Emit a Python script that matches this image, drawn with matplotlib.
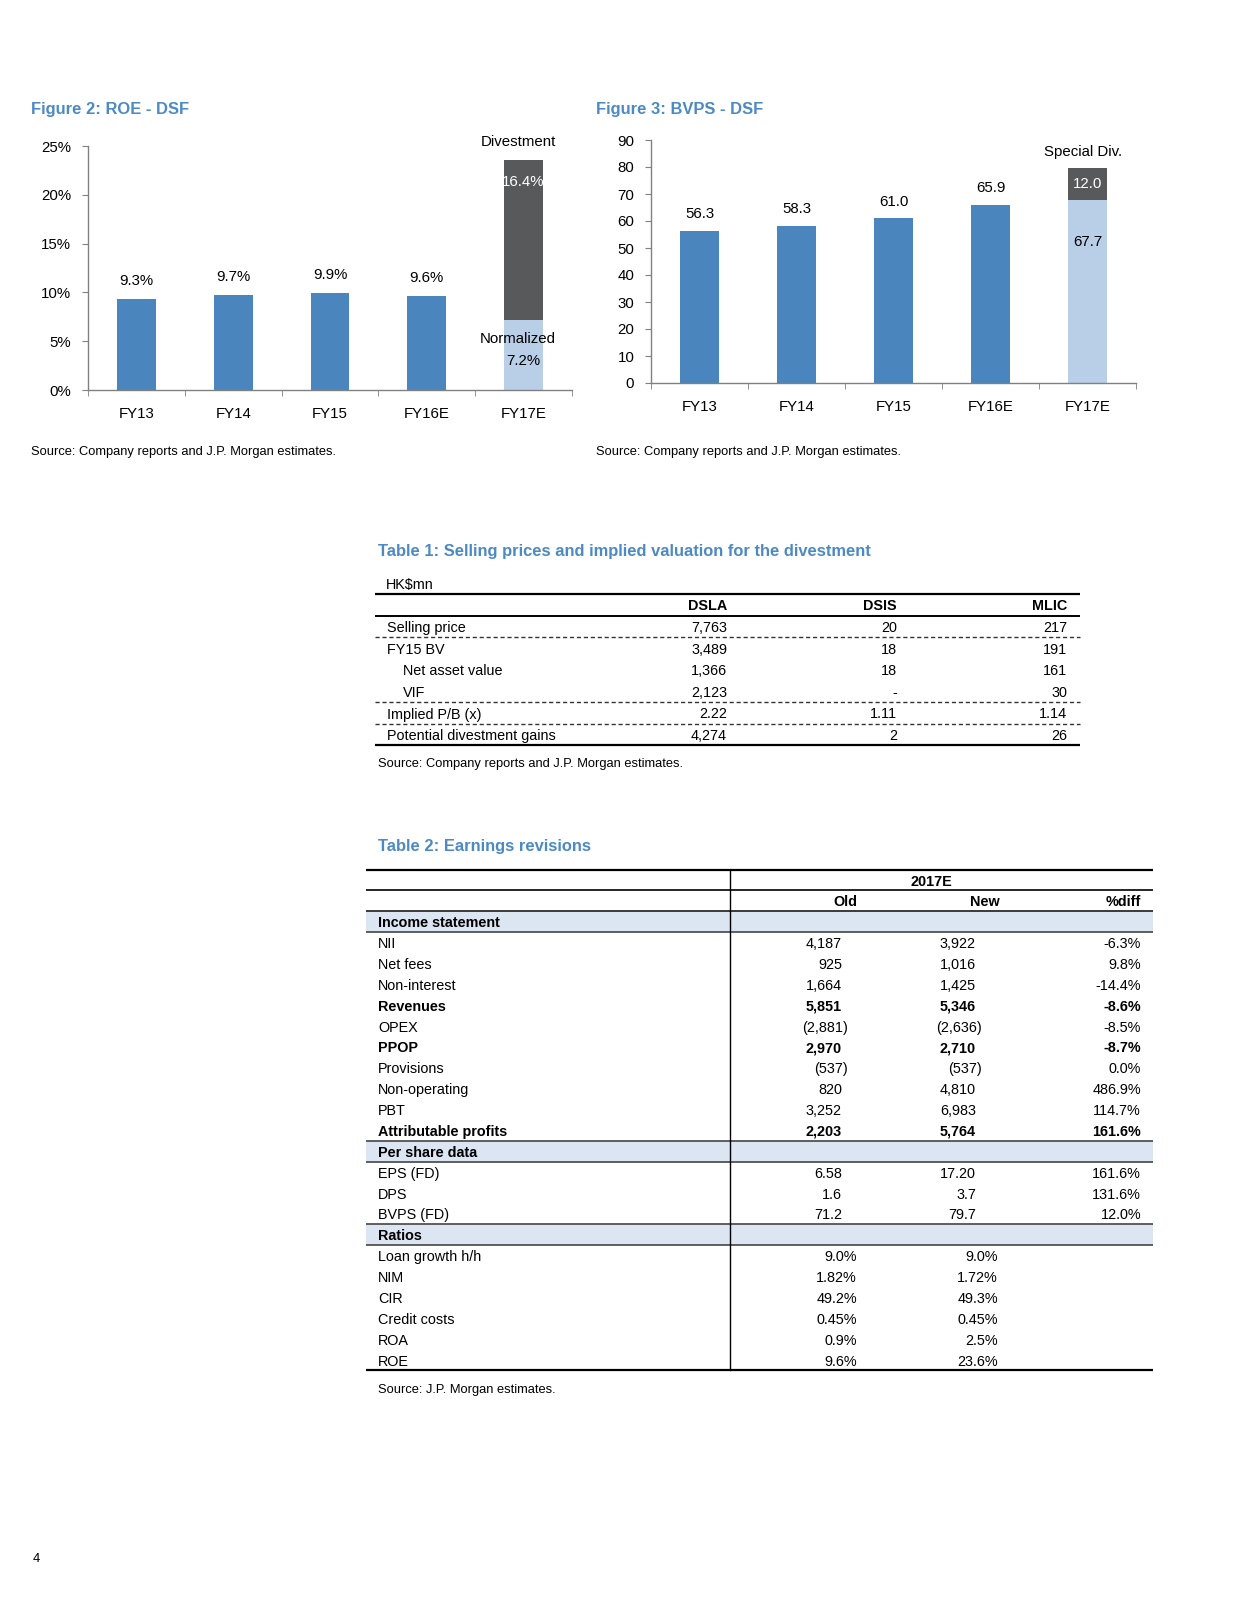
import matplotlib
matplotlib.use("Agg")
import matplotlib.pyplot as plt
from matplotlib import font_manager

# ---- data ----
years = ["FY13", "FY14", "FY15", "FY16E", "FY17E"]
roe = [9.3, 9.7, 9.9, 9.6]
roe_fy17_normalized = 7.2
roe_fy17_divestment = 16.4

bvps = [56.3, 58.3, 61.0, 65.9]
bvps_fy17 = 67.7
bvps_special_div = 12.0

t1_cols = ["DSLA", "DSIS", "MLIC"]
t1_rows = ["Selling price", "FY15 BV", "Net asset value", "VIF",
           "Implied P/B (x)", "Potential divestment gains"]
t1_indent = [False, False, True, True, False, False]
t1_vals = [["7,763", "20", "217"],
           ["3,489", "18", "191"],
           ["1,366", "18", "161"],
           ["2,123", "-", "30"],
           ["2.22", "1.11", "1.14"],
           ["4,274", "2", "26"]]

t2_cols = ["Old", "New", "%diff"]
t2_income = [("NII", "4,187", "3,922", "-6.3%"),
             ("Net fees", "925", "1,016", "9.8%"),
             ("Non-interest", "1,664", "1,425", "-14.4%"),
             ("Revenues", "5,851", "5,346", "-8.6%"),
             ("OPEX", "(2,881)", "(2,636)", "-8.5%"),
             ("PPOP", "2,970", "2,710", "-8.7%"),
             ("Provisions", "(537)", "(537)", "0.0%"),
             ("Non-operating", "820", "4,810", "486.9%"),
             ("PBT", "3,252", "6,983", "114.7%"),
             ("Attributable profits", "2,203", "5,764", "161.6%")]
t2_per_share = [("EPS (FD)", "6.58", "17.20", "161.6%"),
                ("DPS", "1.6", "3.7", "131.6%"),
                ("BVPS (FD)", "71.2", "79.7", "12.0%")]
t2_ratios = [("Loan growth h/h", "9.0%", "9.0%", ""),
             ("NIM", "1.82%", "1.72%", ""),
             ("CIR", "49.2%", "49.3%", ""),
             ("Credit costs", "0.45%", "0.45%", ""),
             ("ROA", "0.9%", "2.5%", ""),
             ("ROE", "9.6%", "23.6%", "")]
t2_bold = ["Revenues", "PPOP", "Attributable profits"]

# ---- style ----
names = {f.name for f in font_manager.fontManager.ttflist}
if "Liberation Sans Narrow" in names:
    FONT, K = "Liberation Sans Narrow", 1.0
else:
    FONT, K = "Liberation Sans", 0.9
plt.rcParams["font.family"] = [FONT, "DejaVu Sans"]

BLUE = "#4A85BE"
DARK = "#58595B"
LIGHT = "#B8CFE7"
TITLE = "#4C8AC3"
BAND = "#DCE6F2"
AXC = "#808080"

W, H = 1252, 1600
fig = plt.figure(figsize=(W / 100, H / 100), dpi=100)

# page layer in pixel coordinates
pg = fig.add_axes([0, 0, 1, 1])
pg.set_xlim(0, W)
pg.set_ylim(H, 0)
pg.axis("off")


def txt(x, y, s, size=11.5, ha="left", bold=False, color="black"):
    pg.text(x, y, s, fontsize=size * K, ha=ha, va="center_baseline",
            fontweight="bold" if bold else "normal", color=color)


def hline(y, x0, x1, lw=1.0, ls="-", color="black"):
    pg.plot([x0, x1], [y, y], color=color, lw=lw, ls=ls, solid_capstyle="butt")


def chart_axes(l, r, top, bottom):
    ax = fig.add_axes([l / W, 1 - bottom / H, (r - l) / W, (bottom - top) / H])
    ax.patch.set_alpha(0)
    for s in ["top", "right"]:
        ax.spines[s].set_visible(False)
    for s in ["left", "bottom"]:
        ax.spines[s].set_color(AXC)
        ax.spines[s].set_linewidth(1.0)
    ax.set_xlim(-0.5, 4.5)
    ax.set_xticks(range(5))
    ax.set_xticklabels(years, fontsize=12 * K)
    ax.set_xticks([i - 0.5 for i in range(6)], minor=True)
    ax.tick_params(axis="x", which="major", length=0, pad=12)
    ax.tick_params(axis="x", which="minor", length=4, color=AXC, direction="out")
    ax.tick_params(axis="y", length=4, color=AXC, pad=8, labelsize=12 * K)
    return ax


# ---- Figure 2: ROE ----
txt(31, 108, "Figure 2: ROE - DSF", size=13.2, bold=True, color=TITLE)
ax1 = chart_axes(88, 572, 146, 390)
ax1.bar(range(4), roe, width=0.4, color=BLUE)
ax1.bar(4, roe_fy17_normalized, width=0.4, color=LIGHT)
ax1.bar(4, roe_fy17_divestment, width=0.4, bottom=roe_fy17_normalized, color=DARK)
ax1.set_ylim(0, 25)
ax1.set_yticks(range(0, 26, 5))
ax1.set_yticklabels([f"{v}%" for v in range(0, 26, 5)])
for i, v in enumerate(roe):
    ax1.annotate(f"{v}%", (i, v), xytext=(0, 8), textcoords="offset points",
                 ha="center", va="bottom", fontsize=12 * K)
top17 = roe_fy17_normalized + roe_fy17_divestment
ax1.annotate("Divestment", (4, top17), xytext=(-4, 8), textcoords="offset points",
             ha="center", va="bottom", fontsize=12 * K, annotation_clip=False)
ax1.annotate(f"{roe_fy17_divestment}%", (4, top17), xytext=(0, -16),
             textcoords="offset points", ha="center", va="center",
             fontsize=12 * K, color="white")
ax1.annotate("Normalized", (4, roe_fy17_normalized), xytext=(-4, -14),
             textcoords="offset points", ha="center", va="center", fontsize=12 * K)
ax1.annotate(f"{roe_fy17_normalized}%", (4, roe_fy17_normalized), xytext=(0, -30),
             textcoords="offset points", ha="center", va="center", fontsize=12 * K)
txt(31, 450, "Source: Company reports and J.P. Morgan estimates.", size=10.3)

# ---- Figure 3: BVPS ----
txt(596, 108, "Figure 3: BVPS - DSF", size=13.2, bold=True, color=TITLE)
ax2 = chart_axes(651, 1136, 140, 383)
ax2.bar(range(4), bvps, width=0.4, color=BLUE)
ax2.bar(4, bvps_fy17, width=0.4, color=LIGHT)
ax2.bar(4, bvps_special_div, width=0.4, bottom=bvps_fy17, color=DARK)
ax2.set_ylim(0, 90)
ax2.set_yticks(range(0, 91, 10))
for i, v in enumerate(bvps):
    ax2.annotate(f"{v:.1f}", (i, v), xytext=(0, 7), textcoords="offset points",
                 ha="center", va="bottom", fontsize=12 * K)
ax2.annotate("Special Div.", (4, bvps_fy17 + bvps_special_div), xytext=(-3, 6),
             textcoords="offset points", ha="center", va="bottom", fontsize=12 * K,
             annotation_clip=False)
ax2.text(4, bvps_fy17 + bvps_special_div / 2, f"{bvps_special_div:.1f}",
         ha="center", va="center", fontsize=12 * K, color="white")
ax2.annotate(f"{bvps_fy17:.1f}", (4, bvps_fy17), xytext=(0, -30),
             textcoords="offset points", ha="center", va="center", fontsize=12 * K)
txt(596, 450, "Source: Company reports and J.P. Morgan estimates.", size=10.3)

# ---- Table 1 ----
txt(378, 550, "Table 1: Selling prices and implied valuation for the divestment",
    size=13.2, bold=True, color=TITLE)
txt(386, 583, "HK$mn")
L1, R1 = 375, 1080
col1_x = [727, 897, 1067]
y0, step = 605, 21.6
hline(y0 - 10.8, L1, R1, lw=1.6)
for c, x in zip(t1_cols, col1_x):
    txt(x, y0, c, ha="right", bold=True)
hline(y0 + 10.8, L1, R1, lw=1.4)
for r, (lab, ind, vals) in enumerate(zip(t1_rows, t1_indent, t1_vals)):
    y = y0 + (r + 1) * step
    txt(403 if ind else 387, y, lab)
    for v, x in zip(vals, col1_x):
        txt(x, y, v, ha="right")
for r in [0, 3, 4]:
    hline(y0 + (r + 1) * step + 10.8, L1, R1, lw=1.0, ls=(0, (3, 2)), color="#333333")
hline(y0 + len(t1_rows) * step + 10.8, L1, R1, lw=1.6)
txt(378, 763, "Source: Company reports and J.P. Morgan estimates.", size=10.3)

# ---- Table 2 ----
txt(378, 845, "Table 2: Earnings revisions", size=13.2, bold=True, color=TITLE)
L2, R2, VX = 366, 1153, 730
num_x = [842, 976, 1141]
pct_x = [857, 998, 1141]
ty, tstep = 880, 20.87

rows = [("section", "Income statement")]
rows += [("row", r) for r in t2_income]
rows.append(("section", "Per share data"))
rows += [("row", r) for r in t2_per_share]
rows.append(("section", "Ratios"))
rows += [("row", r) for r in t2_ratios]

hline(ty - tstep / 2, L2, R2, lw=1.6)
txt((VX + R2) / 2 - 10, ty, "2017E", ha="center", bold=True)
hline(ty + tstep / 2, L2, R2, lw=1.2)
yh = ty + tstep
for c, x in zip(t2_cols, [857, 1000, 1141]):
    txt(x, yh, c, ha="right", bold=True)
hline(yh + tstep / 2, L2, R2, lw=1.2)

y = yh
for kind, item in rows:
    y += tstep
    if kind == "section":
        pg.fill_between([L2, R2], y - tstep / 2, y + tstep / 2, color=BAND, lw=0, zorder=0)
        txt(378, y, item, bold=True)
        hline(y - tstep / 2, L2, R2, lw=1.2, color="#444444")
        hline(y + tstep / 2, L2, R2, lw=1.2, color="#444444")
    else:
        lab, old, new, diff = item
        b = lab in t2_bold
        txt(378, y, lab, bold=b)
        for i, v in enumerate([old, new, diff]):
            if not v:
                continue
            if v.endswith("%"):
                x = pct_x[i]
            elif v.endswith(")"):
                x = num_x[i] + 6
            else:
                x = num_x[i]
            txt(x, y, v, ha="right", bold=b)
ybot = y + tstep / 2
hline(ybot, L2, R2, lw=1.6)
pg.plot([VX, VX], [ty - tstep / 2, ybot], color="black", lw=1.0)
txt(378, 1388, "Source: J.P. Morgan estimates.", size=10.3)

txt(33, 1557, "4", size=10.3)

fig.savefig("out.png", dpi=100)
